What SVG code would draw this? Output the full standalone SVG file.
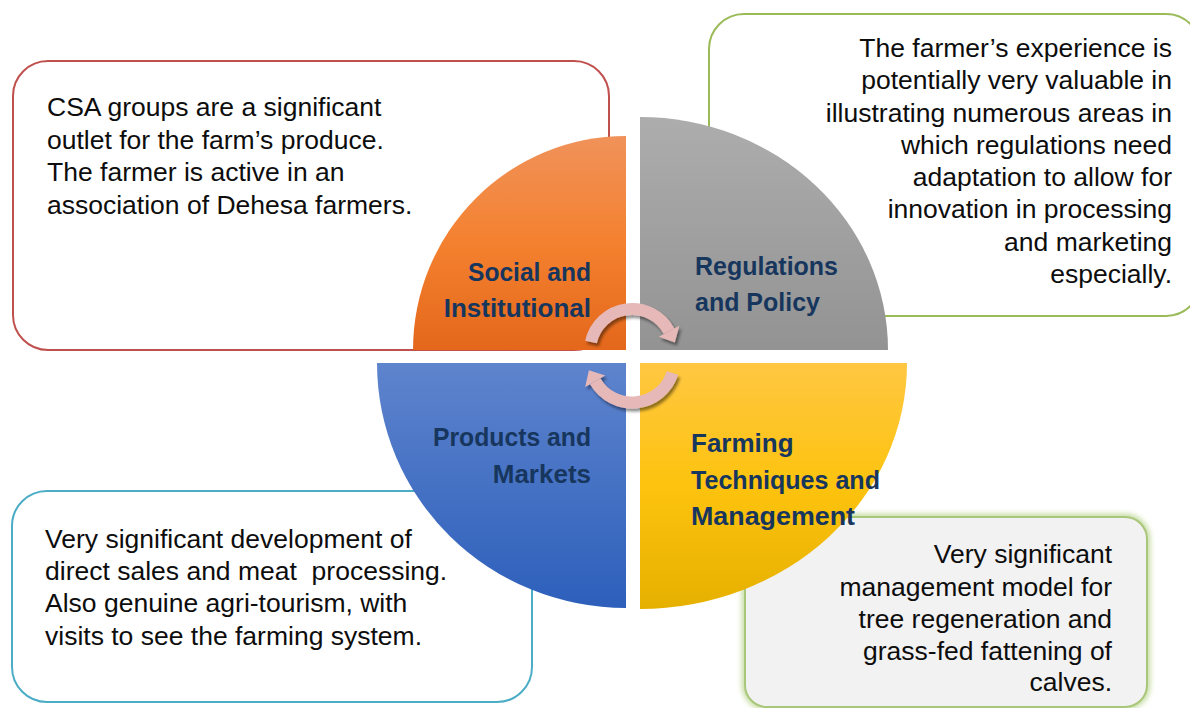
<svg xmlns="http://www.w3.org/2000/svg" width="1190" height="708" viewBox="0 0 1190 708">
  <defs>
    <style>
      .box { fill: #ffffff; stroke-width: 2; }
      .body { font-family: "Liberation Sans", Arial, sans-serif; font-size: 26.5px; fill: #0d0d0d; }
      .end { text-anchor: end; }
      .label { font-family: "Liberation Sans", Arial, sans-serif; font-size: 26px; font-weight: bold; fill: #17365d; }
      .cycle { fill: none; stroke: #e6b9b8; stroke-width: 12; }
      .head { fill: #e6b9b8; }
    </style>
    <linearGradient id="gOrange" x1="0" y1="0" x2="0" y2="1">
      <stop offset="0" stop-color="#f0925a"/>
      <stop offset="0.5" stop-color="#f4812f"/>
      <stop offset="1" stop-color="#e4671b"/>
    </linearGradient>
    <linearGradient id="gGray" x1="0" y1="0" x2="0" y2="1">
      <stop offset="0" stop-color="#adadad"/>
      <stop offset="1" stop-color="#939393"/>
    </linearGradient>
    <linearGradient id="gBlue" x1="0" y1="0" x2="0" y2="1">
      <stop offset="0" stop-color="#5e84cd"/>
      <stop offset="1" stop-color="#2d5fbb"/>
    </linearGradient>
    <linearGradient id="gYellow" x1="0" y1="0" x2="0" y2="1">
      <stop offset="0" stop-color="#ffc742"/>
      <stop offset="0.5" stop-color="#fdc30e"/>
      <stop offset="1" stop-color="#e6b000"/>
    </linearGradient>
    <filter id="arrowShadow" x="-30%" y="-30%" width="160%" height="160%">
      <feDropShadow dx="2" dy="3" stdDeviation="1.5" flood-color="#000" flood-opacity="0.45"/>
    </filter>
    <filter id="softGlow" x="-10%" y="-10%" width="120%" height="120%">
      <feGaussianBlur stdDeviation="2.5"/>
    </filter>
  </defs>

  <rect width="1190" height="708" fill="#ffffff"/>

  <!-- Social and Institutional -->
  <g id="node-social">
    <rect class="box" x="13" y="61" width="596" height="289" rx="35" stroke="#c0504d"/>
    <path d="M626,350 L413,350 A213,214 0 0 1 626,136 Z" fill="url(#gOrange)"/>
    <text class="label end" x="591" y="281" textLength="123" lengthAdjust="spacingAndGlyphs">Social and</text>
    <text class="label end" x="591" y="317">Institutional</text>
    <text class="body" x="47" y="116">CSA groups are a significant</text>
    <text class="body" x="47" y="149">outlet for the farm’s produce.</text>
    <text class="body" x="47" y="181">The farmer is active in an</text>
    <text class="body" x="47" y="214">association of Dehesa farmers.</text>
  </g>

  <!-- Regulations and Policy -->
  <g id="node-regulations">
    <rect class="box" x="709" y="14" width="492" height="302" rx="35" stroke="#9bbb59"/>
    <path d="M640,350 L640,117 A248,233 0 0 1 888,350 Z" fill="url(#gGray)"/>
    <text class="label" x="695" y="275" textLength="143" lengthAdjust="spacingAndGlyphs">Regulations</text>
    <text class="label" x="695" y="311" textLength="125" lengthAdjust="spacingAndGlyphs">and Policy</text>
    <text class="body end" x="1172" y="57">The farmer’s experience is</text>
    <text class="body end" x="1172" y="89">potentially very valuable in</text>
    <text class="body end" x="1172" y="122">illustrating numerous areas in</text>
    <text class="body end" x="1172" y="154">which regulations need</text>
    <text class="body end" x="1172" y="186">adaptation to allow for</text>
    <text class="body end" x="1172" y="218">innovation in processing</text>
    <text class="body end" x="1172" y="251">and marketing</text>
    <text class="body end" x="1172" y="283">especially.</text>
  </g>

  <!-- Products and Markets -->
  <g id="node-products">
    <rect class="box" x="12" y="491" width="520" height="211" rx="35" stroke="#4bacc6"/>
    <path d="M626,363 L626,608 A249,245 0 0 1 377,363 Z" fill="url(#gBlue)"/>
    <text class="label end" x="591" y="446" textLength="158" lengthAdjust="spacingAndGlyphs">Products and</text>
    <text class="label end" x="591" y="483">Markets</text>
    <text class="body" x="45" y="548">Very significant development of</text>
    <text class="body" x="45" y="580" style="white-space:pre">direct sales and meat  processing.</text>
    <text class="body" x="45" y="612">Also genuine agri-tourism, with</text>
    <text class="body" x="45" y="645">visits to see the farming system.</text>
  </g>

  <!-- Farming Techniques and Management -->
  <g id="node-farming">
    <rect x="745" y="517" width="402" height="190" rx="22" fill="none" stroke="#c9dea6" stroke-width="7" filter="url(#softGlow)"/>
    <rect x="745" y="517" width="402" height="190" rx="22" fill="#f2f2f2" stroke="#a9c77a" stroke-width="2"/>
    <path d="M640,363 L907,363 A267,246 0 0 1 640,609 Z" fill="url(#gYellow)"/>
    <text class="label" x="691" y="452">Farming</text>
    <text class="label" x="691" y="489" textLength="189" lengthAdjust="spacingAndGlyphs">Techniques and</text>
    <text class="label" x="691" y="525" textLength="164" lengthAdjust="spacingAndGlyphs">Management</text>
    <text class="body end" x="1112" y="563">Very significant</text>
    <text class="body end" x="1112" y="596">management model for</text>
    <text class="body end" x="1112" y="628">tree regeneration and</text>
    <text class="body end" x="1112" y="660">grass-fed fattening of</text>
    <text class="body end" x="1112" y="691">calves.</text>
  </g>

  <!-- cycle arrows between the quadrants -->
  <g id="connectors" filter="url(#arrowShadow)">
    <path class="cycle" d="M591,342 A42,42 0 0 1 669.1,331.3"/>
    <polygon class="head" points="679.3,325.8 658.9,336.8 674.8,342.4"/>
    <path class="cycle" d="M672.5,373 A42.5,42.5 0 0 1 595.2,381.3"/>
    <polygon class="head" points="585.2,387.1 605.2,375.5 588.9,370.3"/>
  </g>
</svg>
